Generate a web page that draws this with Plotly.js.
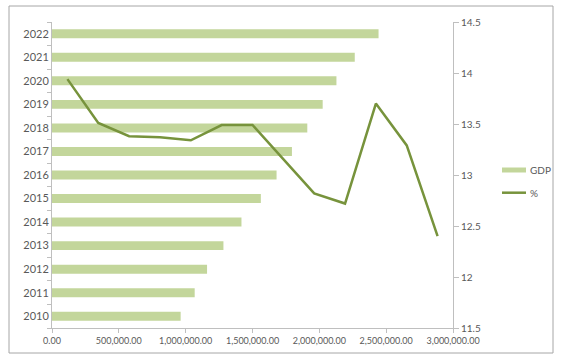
<!DOCTYPE html>
<html>
<head>
<meta charset="utf-8">
<script src="https://cdn.plot.ly/plotly-3.0.1.min.js"></script>
<style>html,body{margin:0;padding:0;background:#fff;}#chart{width:563px;height:355px;}</style>
</head>
<body>
<div id="chart"></div>
<script>
const years = ["2010","2011","2012","2013","2014","2015","2016","2017","2018","2019","2020","2021","2022"];
const gdp = [962500, 1067500, 1160000, 1282500, 1417500, 1562500, 1680000, 1795000, 1910000, 2025000, 2128000, 2265000, 2443000];
const pct = [13.94, 13.51, 13.38, 13.37, 13.34, 13.49, 13.49, 13.16, 12.82, 12.72, 13.70, 13.29, 12.40];
const xTicks = [0, 500000, 1000000, 1500000, 2000000, 2500000, 3000000];
const rightTicks = [11.5, 12, 12.5, 13, 13.5, 14, 14.5];

const barColor = "#c3d69b";
const lineColor = "#77933c";
const txt = "#595959";
const axisCol = "#bfbfbf";

// plot area in pixels
const L = 52, R = 453, T = 22, B = 328;
const px = v => (v - L) / (R - L);
const py = v => (B - v) / (B - T);

const traces = [
  {type: "bar", orientation: "h", x: gdp, y: years, name: "GDP",
   marker: {color: barColor}, xaxis: "x", yaxis: "y", showlegend: false, hoverinfo: "x+y"},
  {type: "scatter", mode: "lines", x: years, y: pct, name: "%",
   line: {color: lineColor, width: 2.5}, xaxis: "x2", yaxis: "y2", showlegend: false}
];

const layout = {
  width: 563, height: 355,
  margin: {l: L, r: 563 - R, t: T, b: 355 - B},
  paper_bgcolor: "#fff", plot_bgcolor: "#fff",
  font: {family: "Lato, 'Liberation Sans', sans-serif", color: txt, size: 10},
  bargap: 0.62,
  showlegend: false,
  xaxis: {range: [0, 3000000], tickvals: xTicks, tickformat: ",.2f",
          showgrid: false, zeroline: false, showline: true, linecolor: axisCol, linewidth: 1,
          ticks: "outside", ticklen: 4, tickcolor: axisCol, tickfont: {size: 9, color: txt}},
  yaxis: {type: "category", categoryarray: years, range: [-0.5, 12.5],
          showgrid: false, zeroline: false, showline: true, linecolor: axisCol, linewidth: 1,
          ticks: "outside", tickson: "boundaries", ticklen: 4, tickcolor: axisCol,
          tickfont: {size: 11, color: txt}},
  xaxis2: {type: "category", categoryarray: years, range: [-0.5, 12.5], overlaying: "x",
           visible: false, showgrid: false, zeroline: false},
  yaxis2: {range: [11.5, 14.5], tickvals: rightTicks, ticktext: rightTicks.map(String),
           overlaying: "y", side: "right", anchor: "x",
           showgrid: false, zeroline: false, showline: true, linecolor: axisCol, linewidth: 1,
           ticks: "outside", ticklen: 5, tickcolor: axisCol, tickfont: {size: 10, color: txt}},
  shapes: [
    {type: "rect", xref: "paper", yref: "paper", x0: px(9), x1: px(553), y0: py(353), y1: py(6),
     line: {color: "#a6a6a6", width: 1}, fillcolor: "rgba(0,0,0,0)", layer: "below"},
    {type: "rect", xref: "paper", yref: "paper", x0: px(502), x1: px(526), y0: py(172.5), y1: py(167.5),
     line: {width: 0}, fillcolor: barColor},
    {type: "line", xref: "paper", yref: "paper", x0: px(502), x1: px(526), y0: py(192.7), y1: py(192.7),
     line: {color: lineColor, width: 2.5}}
  ],
  annotations: [
    {xref: "paper", yref: "paper", x: px(528), y: py(170), text: "GDP", showarrow: false,
     xanchor: "left", yanchor: "middle", font: {size: 10, color: txt}},
    {xref: "paper", yref: "paper", x: px(528), y: py(192.7), text: "%", showarrow: false,
     xanchor: "left", yanchor: "middle", font: {size: 10, color: txt}}
  ]
};

Plotly.newPlot("chart", traces, layout, {displayModeBar: false, staticPlot: true});
</script>
</body>
</html>
